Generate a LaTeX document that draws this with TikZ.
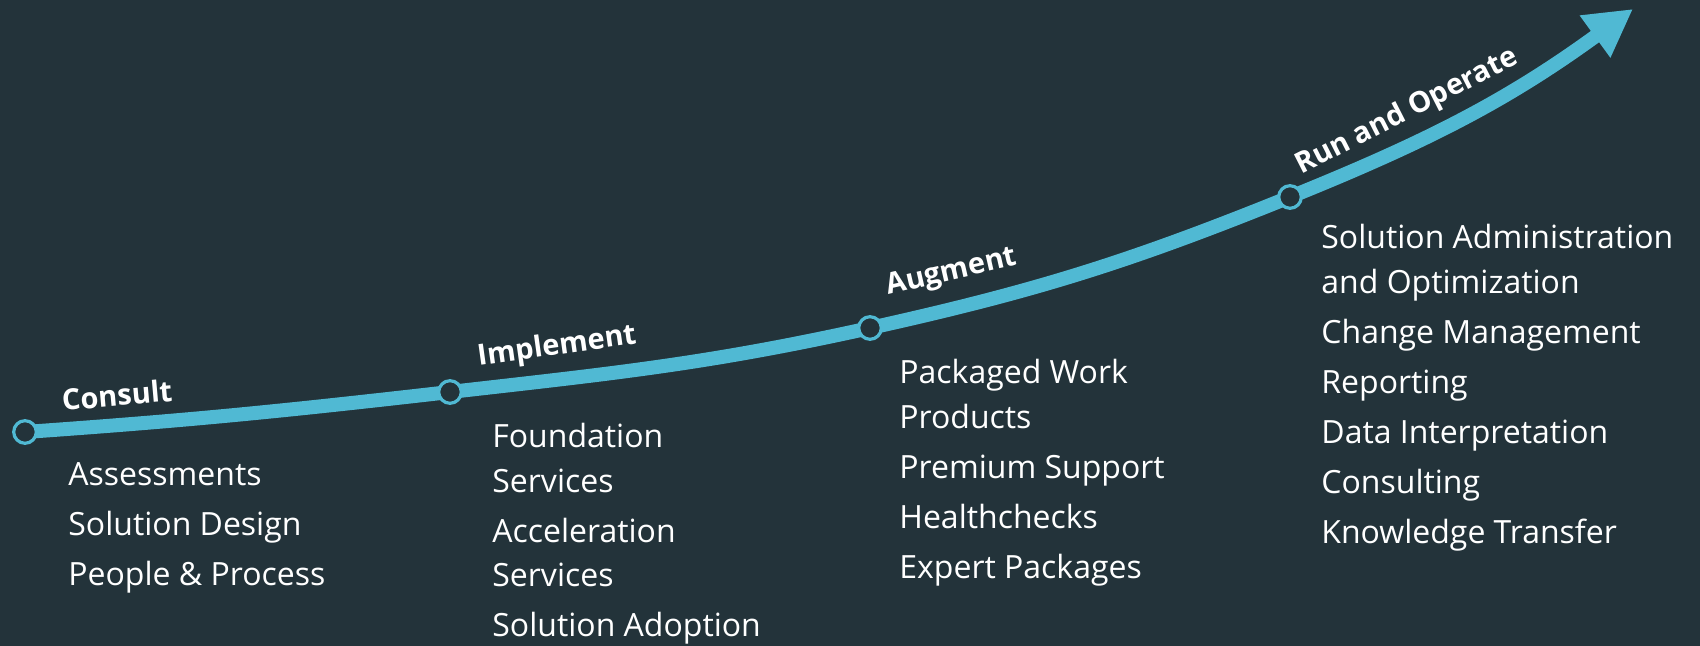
\documentclass[tikz,border=0pt]{standalone}
\usepackage{fontspec}
\setmainfont{Open Sans}
\usetikzlibrary{arrows.meta}
\definecolor{slate}{RGB}{35,51,58}
\definecolor{sky}{RGB}{80,185,211}

\begin{document}
\begin{tikzpicture}[x=0.5pt, y=0.5pt,
    trail/.style={sky, line width=7pt, -{Triangle[length=23.5pt, width=24.4pt]}},
    stop/.style={circle, draw=sky, fill=slate, line width=1.6pt, minimum size=11.3pt, inner sep=0pt},
    phase/.style={text=white, inner sep=0pt, font=\fontsize{14.5}{17}\selectfont\bfseries},
    items/.style={text=white, anchor=north west, align=left, inner sep=0pt, font=\fontsize{16}{22.25}\selectfont}]
    \fill[slate] (0, 0) rectangle (1700, 646);

    \coordinate (p1) at (25, 214);
    \coordinate (p2) at (450, 254);
    \coordinate (p3) at (870, 318);
    \coordinate (p4) at (1290, 449);
    \coordinate (tip) at (1633, 637);

    \draw[trail] (p1) to[out=4, in=186.5] (p2) to[out=6.5, in=192.5] (p3)
        to[out=12.5, in=202] (p4) to[out=22, in=216] (tip);

    \node[stop] (consult) at (p1) {};
    \node[stop] (implement) at (p2) {};
    \node[stop] (augment) at (p3) {};
    \node[stop] (runop) at (p4) {};

    \node[phase, rotate=5] (consultlbl) at (117, 251) {Consult};
    \node[phase, rotate=8] (implementlbl) at (557, 299) {Implement};
    \node[phase, rotate=13] (augmentlbl) at (952, 373) {Augment};
    \node[phase, rotate=27] (runoplbl) at (1407, 534) {Run and Operate};

    % lists under each stop, top = first baseline + strut
    \node[items] (consultlist) at (68, 192) {\strut Assessments\\[2.75pt]
        Solution Design\\[2.75pt] People \& Process};
    \node[items] (implementlist) at (492, 230) {\strut Foundation\\ Services\\[2.75pt]
        Acceleration\\ Services\\[2.75pt] Solution Adoption};
    \node[items] (augmentlist) at (899, 294) {\strut Packaged Work\\ Products\\[2.75pt]
        Premium Support\\[2.75pt] Healthchecks\\[2.75pt] Expert Packages};
    \node[items] (runoplist) at (1321, 429) {\strut Solution Administration\\ and Optimization\\[2.75pt]
        Change Management\\[2.75pt] Reporting\\[2.75pt] Data Interpretation\\[2.75pt]
        Consulting\\[2.75pt] Knowledge Transfer};
\end{tikzpicture}
\end{document}
